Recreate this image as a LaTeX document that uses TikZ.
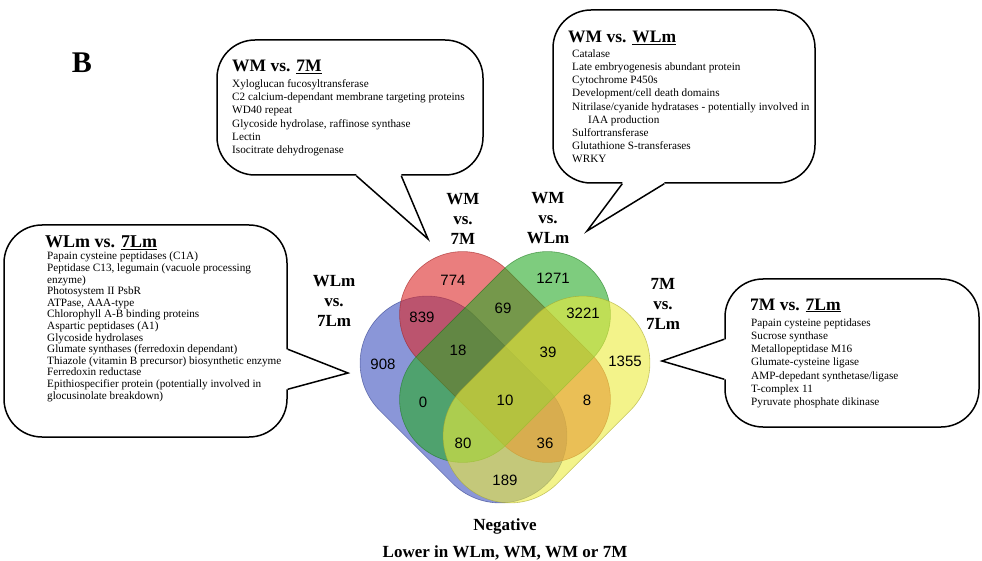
\documentclass[tikz,border=0pt]{standalone}
\usepackage{fontspec}
\setmainfont{Liberation Serif}
\newfontfamily\numfont{Liberation Sans}
\usetikzlibrary{calc}
\definecolor{vennblue}{RGB}{60,80,190}
\definecolor{vennred}{RGB}{220,40,40}
\definecolor{venngreen}{RGB}{40,170,40}
\definecolor{vennyellow}{RGB}{235,235,60}
\tikzset{
  venn/.style={fill=#1, fill opacity=0.6, draw=#1!70!black, draw opacity=0.6, line width=0.6pt},
  callbox/.style={draw, line width=1.5pt, fill=white, rounded corners=38pt, inner sep=0pt},
  callline/.style={line width=1.5pt, line join=miter},
  calltitle/.style={anchor=base west, inner sep=0pt, font=\fontsize{17.5}{20}\selectfont\bfseries},
  callitems/.style={anchor=north west, inner sep=0pt, align=left, font=\fontsize{11.2}{13.2}\selectfont},
  setlabel/.style={align=center, inner sep=0pt, font=\fontsize{17}{20}\selectfont\bfseries},
  count/.style={inner sep=0pt, font=\numfont\fontsize{15}{18}\selectfont},
}
\begin{document}
\begin{tikzpicture}[x=1pt,y=-1pt]
\useasboundingbox (0,0) rectangle (982,561);

\node[inner sep=0pt, font=\fontsize{30}{36}\selectfont\bfseries] (panel) at (82,63) {B};

% the four sets
\begin{scope}[shift={(463.5,399.5)},rotate=-45]
  \draw[venn=vennblue, rounded corners=67pt] (-118.5,-67) rectangle (118.5,67);
\end{scope}
\begin{scope}[shift={(505,357)},rotate=-45]
  \draw[venn=vennred, rounded corners=63pt] (-123,-63) rectangle (123,63);
\end{scope}
\begin{scope}[shift={(505,357)},rotate=45]
  \draw[venn=venngreen, rounded corners=63pt] (-123,-63) rectangle (123,63);
\end{scope}
\begin{scope}[shift={(546.5,399.5)},rotate=45]
  \draw[venn=vennyellow, rounded corners=67pt] (-118.5,-67) rectangle (118.5,67);
\end{scope}

\node[count] (n908) at (383,364) {908};
\node[count] (n774) at (453,280) {774};
\node[count] (n1271) at (553,278) {1271};
\node[count] (n1355) at (625,361) {1355};
\node[count] (n839) at (422,317) {839};
\node[count] (n69) at (503,308) {69};
\node[count] (n3221) at (583,313) {3221};
\node[count] (n18) at (458,350) {18};
\node[count] (n39) at (548,352) {39};
\node[count] (n0) at (423,402) {0};
\node[count] (n10) at (505,400) {10};
\node[count] (n8) at (587,400) {8};
\node[count] (n80) at (463,443) {80};
\node[count] (n36) at (545,443) {36};
\node[count] (n189) at (505,480) {189};

\node[setlabel] (lblwm7m) at (463,218.5) {WM\\vs.\\7M};
\node[setlabel] (lblwmwlm) at (548,218.5) {WM\\vs.\\WLm};
\node[setlabel] (lblwlm7lm) at (334,300.5) {WLm\\vs.\\7Lm};
\node[setlabel] (lbl7m7lm) at (663,304) {7M\\vs.\\7Lm};

\node[setlabel, anchor=base] (neg) at (505,530) {Negative};
\node[setlabel, anchor=base] (lower) at (505,557) {Lower in WLm, WM, WM or 7M};

% WM vs 7M
\node[callbox, minimum width=266pt, minimum height=135pt] (boxA) at (350,107.5) {};
\coordinate (tipA) at (428,239);
\path ($(boxA.south west)+(140,0)$) coordinate (baseA1) ($(boxA.south west)+(185,0)$) coordinate (baseA2);
\fill[white] ($(baseA1)+(0,-3)$) -- (baseA1) -- (tipA) -- (baseA2) -- ($(baseA2)+(0,-3)$) -- cycle;
\draw[callline] (baseA1) -- (tipA) -- (baseA2);
\node[calltitle] (titleA) at (232,72) {WM vs. \underline{7M}};
\node[callitems] (itemsA) at (232,79.4) {Xyloglucan fucosyltransferase\\C2 calcium-dependant membrane targeting proteins\\WD40 repeat\\Glycoside hydrolase, raffinose synthase\\Lectin\\Isocitrate dehydrogenase};

% WM vs WLm
\node[callbox, minimum width=262pt, minimum height=173pt] (boxB) at (684,96.5) {};
\coordinate (tipB) at (587,231);
\path ($(boxB.south west)+(70,0)$) coordinate (baseB1) ($(boxB.south west)+(112,0)$) coordinate (baseB2);
\fill[white] ($(baseB1)+(0,-3)$) -- (baseB1) -- (tipB) -- (baseB2) -- ($(baseB2)+(0,-3)$) -- cycle;
\draw[callline] (baseB1) -- (tipB) -- (baseB2);
\node[calltitle] (titleB) at (568,43) {WM vs. \underline{WLm}};
\node[callitems] (itemsB) at (572,49.3) {Catalase\\Late embryogenesis abundant protein\\Cytochrome P450s\\Development/cell death domains\\Nitrilase/cyanide hydratases - potentially involved in\\\hspace*{16pt}IAA production\\Sulfortransferase\\Glutathione S-transferases\\WRKY};

% WLm vs 7Lm
\node[callbox, minimum width=283pt, minimum height=212pt] (boxC) at (145.5,331) {};
\coordinate (tipC) at (348,373);
\path ($(boxC.north east)+(0,125)$) coordinate (baseC1) ($(boxC.north east)+(0,165)$) coordinate (baseC2);
\fill[white] ($(baseC1)+(-3,0)$) -- (baseC1) -- (tipC) -- (baseC2) -- ($(baseC2)+(-3,0)$) -- cycle;
\draw[callline] (baseC1) -- (tipC) -- (baseC2);
\node[calltitle, font=\fontsize{18}{20}\selectfont\bfseries] (titleC) at (45,247.5) {WLm vs. \underline{7Lm}};
\node[callitems, font=\fontsize{11.2}{11.6}\selectfont] (itemsC) at (47,252) {Papain cysteine peptidases (C1A)\\Peptidase C13, legumain (vacuole processing\\enzyme)\\Photosystem II PsbR\\ATPase, AAA-type\\Chlorophyll A-B binding proteins\\Aspartic peptidases (A1)\\Glycoside hydrolases\\Glumate synthases (ferredoxin dependant)\\Thiazole (vitamin B precursor) biosynthetic enzyme\\Ferredoxin reductase\\Epithiospecifier protein (potentially involved in\\glocusinolate breakdown)};

% 7M vs 7Lm
\node[callbox, minimum width=254pt, minimum height=148pt] (boxD) at (852,353) {};
\coordinate (tipD) at (662,361);
\path ($(boxD.north west)+(0,61)$) coordinate (baseD1) ($(boxD.north west)+(0,101)$) coordinate (baseD2);
\fill[white] ($(baseD1)+(3,0)$) -- (baseD1) -- (tipD) -- (baseD2) -- ($(baseD2)+(3,0)$) -- cycle;
\draw[callline] (baseD1) -- (tipD) -- (baseD2);
\node[calltitle] (titleD) at (750,310) {7M vs. \underline{7Lm}};
\node[callitems] (itemsD) at (751,318.3) {Papain cysteine peptidases\\Sucrose synthase\\Metallopeptidase M16\\Glumate-cysteine ligase\\AMP-depedant synthetase/ligase\\T-complex 11\\Pyruvate phosphate dikinase};
\end{tikzpicture}
\end{document}
